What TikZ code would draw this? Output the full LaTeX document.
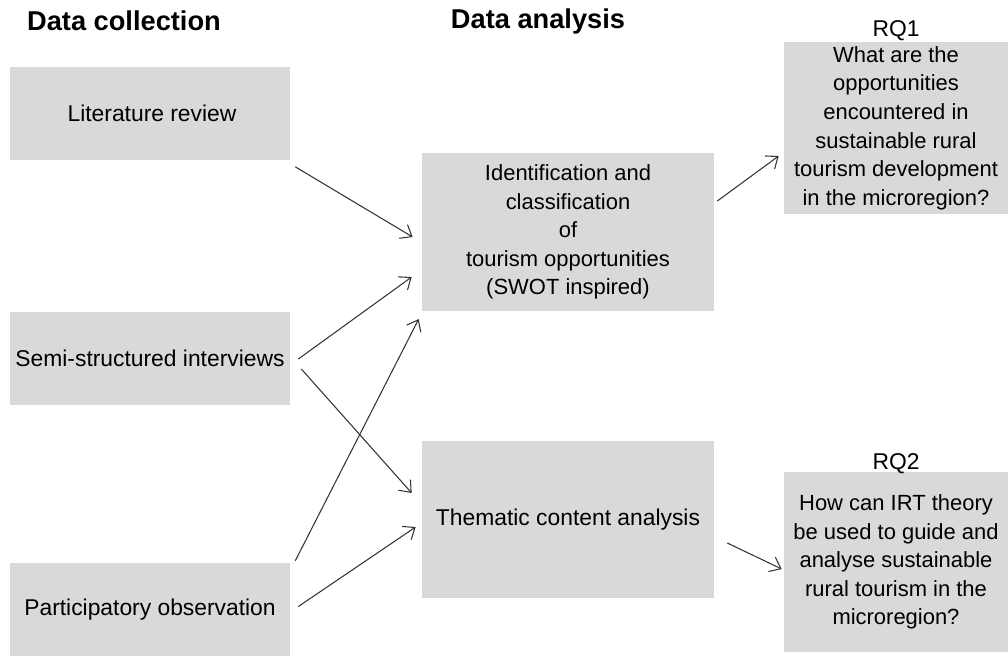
\documentclass[tikz,border=0pt]{standalone}
\usepackage{fontspec}
\setmainfont{Liberation Sans}
\usepackage{tikz}
\usetikzlibrary{positioning,calc,arrows.meta}
\definecolor{boxgray}{HTML}{D9D9D9}
\definecolor{linegray}{HTML}{333333}
\newcommand{\boxfont}{\fontsize{12.5}{16.3}\selectfont}
\newcommand{\bigboxfont}{\fontsize{13}{16.3}\selectfont}
\newcommand{\headfont}{\fontsize{15.5}{18}\selectfont\bfseries}

\begin{document}
\begin{tikzpicture}[x=0.02cm, y=-0.02cm,
	srcbox/.style={fill=boxgray, inner sep=0pt, minimum width=5.6cm, minimum height=1.86cm, font=\bigboxfont},
	anabox/.style={fill=boxgray, inner sep=0pt, minimum width=5.84cm, minimum height=3.15cm, font=\boxfont, align=center},
	rqbox/.style={fill=boxgray, inner sep=0pt, minimum width=4.48cm, font=\boxfont, align=center},
	heading/.style={font=\headfont, inner sep=0pt},
	rqlabel/.style={font=\fontsize{13}{15}\selectfont, inner sep=0pt},
	arr/.style={draw=linegray, line width=0.6pt, -{Straight Barb[length=2mm, width=3.2mm]}}]
	\useasboundingbox (0,0) rectangle (1008,657);

	% headings
	\node[heading] (hcol) at (124,21) {Data collection};
	\node[heading] (hana) at (538,21) {Data analysis};

	% data collection
	\node[srcbox] (lit) at (150,113.5) {\hspace*{0.08cm}Literature review};
	\node[srcbox] (semi) at (150,358.5) {Semi-structured interviews};
	\node[srcbox] (part) at (150,609.5) {Participatory observation};

	% data analysis
	\node[anabox] (ident) at (568,232) {Identification and\\classification \\of\\tourism opportunities\\(SWOT inspired)};
	\node[anabox, font=\bigboxfont] (them) at (568,519.5) {Thematic content analysis};

	% research questions
	\node[rqbox, minimum height=3.44cm] (rq1) at (896,128) {What are the\\opportunities\\encountered in\\sustainable rural\\tourism development\\in the microregion?};
	\node[rqlabel] (rq1l) at (896,31) {RQ1};
	\node[rqbox, minimum height=3.6cm] (rq2) at (896,562) {How can IRT theory\\be used to guide and\\analyse sustainable\\rural tourism in the\\microregion?};
	\node[rqlabel] (rq2l) at (896,464) {RQ2};

	% connectors
	\draw[arr] ([shift={(5,6.5)}]lit.south east) -- ([shift={(-9,5)}]ident.west);
	\draw[arr] ([shift={(8,0.5)}]semi.east) -- ([shift={(-10,45)}]ident.west);
	\draw[arr] ([shift={(11,10.5)}]semi.east) -- ([shift={(-10,-26.5)}]them.west);
	\draw[arr] ([shift={(5,-2)}]part.north east) -- ([shift={(-3,8)}]ident.south west);
	\draw[arr] ([shift={(8,-3)}]part.east) -- ([shift={(-6,7.5)}]them.west);
	\draw[arr] ([shift={(3,-31)}]ident.east) -- ([shift={(-5,28)}]rq1.west);
	\draw[arr] ([shift={(13,23.5)}]them.east) -- ([shift={(-2,7)}]rq2.west);
\end{tikzpicture}
\end{document}
